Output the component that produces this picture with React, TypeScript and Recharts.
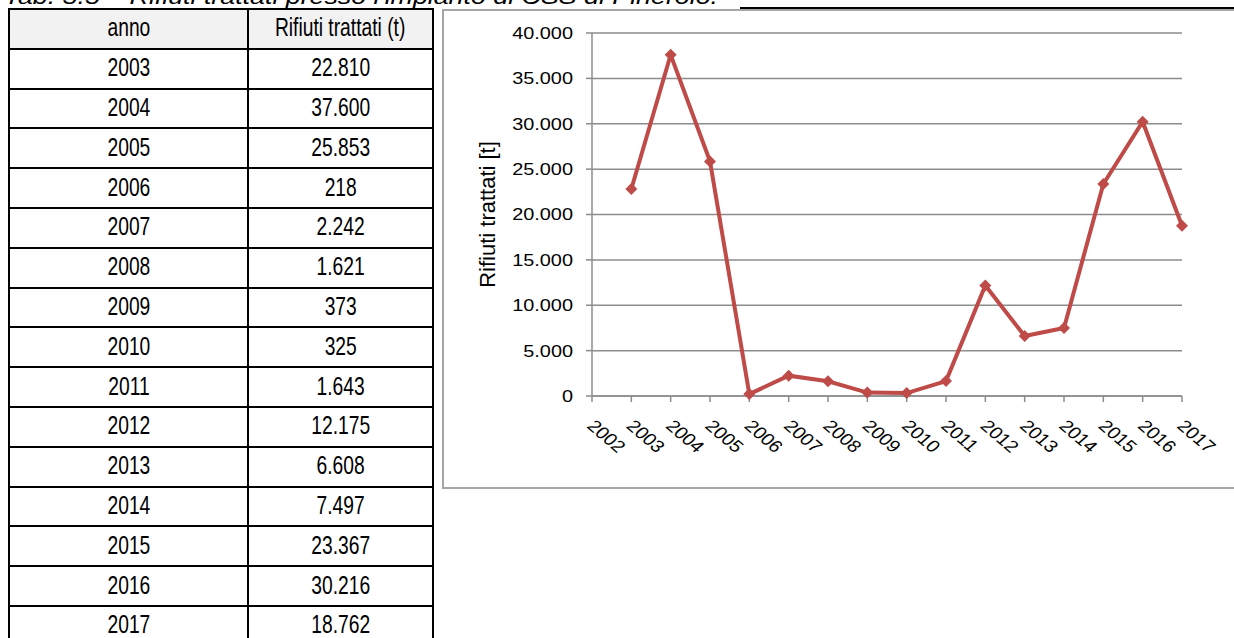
import { LineChart, Line, XAxis, YAxis, CartesianGrid, Label } from 'recharts';

const years = ['2002', '2003', '2004', '2005', '2006', '2007', '2008', '2009', '2010', '2011', '2012', '2013', '2014', '2015', '2016', '2017'];
const treated: (number | null)[] = [null, 22810, 37600, 25853, 218, 2242, 1621, 373, 325, 1643, 12175, 6608, 7497, 23367, 30216, 18762];
const yTicks = [0, 5000, 10000, 15000, 20000, 25000, 30000, 35000, 40000];

const data = years.map((year, i) => ({ year, value: treated[i] }));
const tableRows = data.filter((d) => d.value !== null);

const fmt = (v: number) => String(v).replace(/\B(?=(\d{3})+(?!\d))/g, '.');

const RED = '#BE4B48';
const GRAY = '#8c8c8c';
const FONT = '"Liberation Sans", Arial, sans-serif';

const XTick = (props: any) => {
    const { x, y, payload } = props;
    return (
        <text
            x={0}
            y={0}
            transform={`translate(${x - 6},${y + 23}) scale(1.17,1) rotate(45)`}
            textAnchor="start"
            fontSize={17}
            fontFamily={FONT}
            fill="#000"
        >
            {payload.value}
        </text>
    );
};

const YTick = (props: any) => {
    const { x, y, payload } = props;
    return (
        <text
            x={0}
            y={0}
            transform={`translate(${x},${y}) scale(1.17,1)`}
            textAnchor="end"
            dominantBaseline="central"
            fontSize={17}
            fontFamily={FONT}
            fill="#000"
        >
            {fmt(payload.value)}
        </text>
    );
};

const YLabel = (props: any) => {
    const { viewBox } = props;
    const cx = 44;
    const cy = viewBox.y + viewBox.height / 2;
    return (
        <text
            x={cx}
            y={cy}
            transform={`rotate(-90, ${cx}, ${cy})`}
            textAnchor="middle"
            dominantBaseline="central"
            fontSize={22}
            fontFamily={FONT}
            fill="#000"
        >
            Rifiuti trattati [t]
        </text>
    );
};

const Diamond = (props: any) => {
    const { cx, cy, index, value } = props;
    if (cx == null || cy == null || value == null) return <g key={index} />;
    const r = 6;
    return (
        <polygon
            key={index}
            points={`${cx},${cy - r} ${cx + r},${cy} ${cx},${cy + r} ${cx - r},${cy}`}
            fill={RED}
        />
    );
};

const cellText = (text: string) => (
    <span style={{ display: 'inline-block', transform: 'scaleX(0.74)', whiteSpace: 'nowrap', lineHeight: '26px' }}>{text}</span>
);

const cellStyle = {
    display: 'flex',
    alignItems: 'center',
    justifyContent: 'center',
    paddingBottom: 3,
    boxSizing: 'border-box' as const,
};

const Row = ({ a, b, header }: { a: string; b: string; header?: boolean }) => (
    <div
        style={{
            display: 'flex',
            height: 39.8,
            boxSizing: 'border-box',
            borderTop: '2px solid #000',
            background: header ? '#f2f2f2' : '#fff',
        }}
    >
        <div style={{ ...cellStyle, width: 239, borderRight: '2px solid #000' }}>{cellText(a)}</div>
        <div style={{ ...cellStyle, flex: 1 }}>{cellText(b)}</div>
    </div>
);

export default function App() {
    return (
        <div style={{ position: 'absolute', left: 0, top: 0, width: 1234, height: 638, overflow: 'hidden', background: '#fff' }}>
            <svg width={1234} height={20} style={{ position: 'absolute', left: 0, top: 0 }}>
                <text
                    x={4}
                    y={4}
                    fontSize={22}
                    fontStyle="italic"
                    fontFamily={FONT}
                    textLength={714}
                    lengthAdjust="spacingAndGlyphs"
                    fill="#000"
                >
                    Tab. 5.5 – Rifiuti trattati presso l'impianto di CSS di Pinerolo.
                </text>
            </svg>
            <div style={{ position: 'absolute', left: 740, top: 7, width: 494, height: 2, background: '#000' }} />

            <div
                style={{
                    position: 'absolute',
                    left: 8,
                    top: 8,
                    width: 426,
                    boxSizing: 'border-box',
                    borderLeft: '2px solid #000',
                    borderRight: '2px solid #000',
                    fontFamily: FONT,
                    fontSize: 26,
                    color: '#000',
                }}
            >
                <Row a="anno" b="Rifiuti trattati (t)" header />
                {tableRows.map((d) => (
                    <Row key={d.year} a={d.year} b={fmt(d.value as number)} />
                ))}
            </div>

            <div
                style={{
                    position: 'absolute',
                    left: 442,
                    top: 9,
                    width: 900,
                    height: 480,
                    boxSizing: 'border-box',
                    border: '2px solid #a6a6a6',
                }}
            />
            <div style={{ position: 'absolute', left: 443, top: 10 }}>
                <LineChart width={790} height={478} data={data} margin={{ top: 23, right: 51, bottom: 32, left: 0 }}>
                    <CartesianGrid vertical={false} stroke={GRAY} strokeWidth={1.5} />
                    <XAxis
                        dataKey="year"
                        interval={0}
                        height={60}
                        tickSize={6}
                        axisLine={{ stroke: GRAY, strokeWidth: 1.5 }}
                        tickLine={{ stroke: GRAY, strokeWidth: 1.5 }}
                        tick={<XTick />}
                    />
                    <YAxis
                        width={149}
                        domain={[0, 40000]}
                        ticks={yTicks}
                        interval={0}
                        tickSize={6}
                        tickMargin={13}
                        axisLine={{ stroke: GRAY, strokeWidth: 1.5 }}
                        tickLine={{ stroke: GRAY, strokeWidth: 1.5 }}
                        tick={<YTick />}
                    >
                        <Label content={<YLabel />} />
                    </YAxis>
                    <Line
                        type="linear"
                        dataKey="value"
                        stroke={RED}
                        strokeWidth={4}
                        dot={<Diamond />}
                        activeDot={false}
                        isAnimationActive={false}
                    />
                </LineChart>
            </div>
        </div>
    );
}
